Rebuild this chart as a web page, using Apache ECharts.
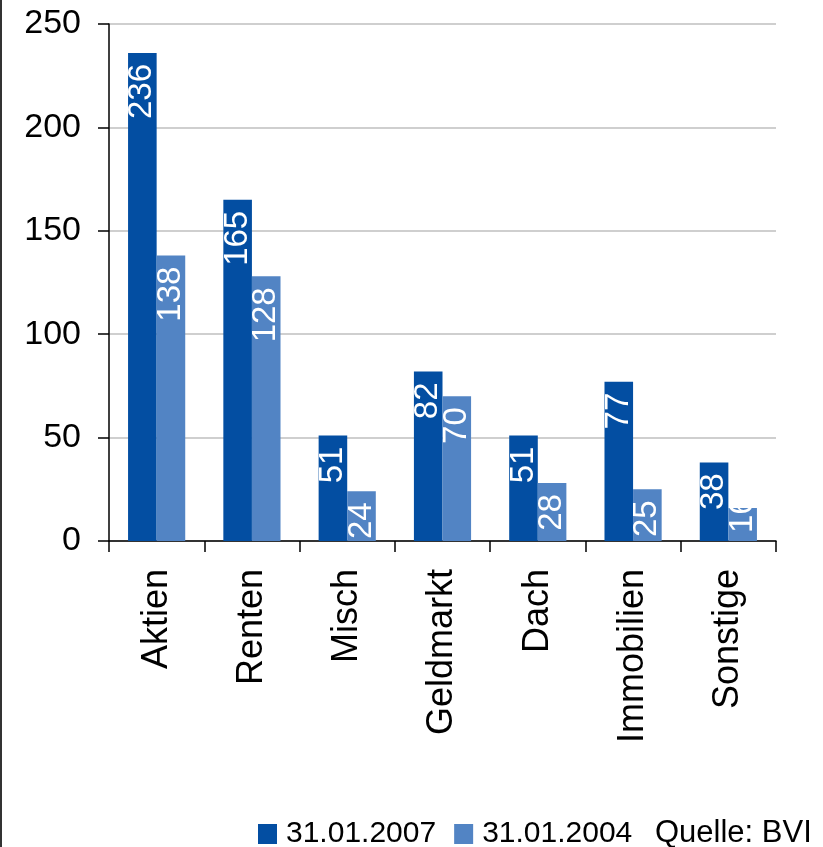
<!DOCTYPE html>
<html>
<head>
<meta charset="utf-8">
<script src="https://cdn.jsdelivr.net/npm/echarts@6/dist/echarts.min.js"></script>
<style>
html,body{margin:0;padding:0;background:#fff;}
#chart{width:823px;height:847px;}
</style>
</head>
<body>
<div id="chart"></div>
<script>
const categories = ['Aktien','Renten','Misch','Geldmarkt','Dach','Immobilien','Sonstige'];
const series2007 = [236,165,51,82,51,77,38];
const series2004 = [138,128,24,70,28,25,16];
const seriesNames = ['31.01.2007','31.01.2004'];
const sourceText = 'Quelle: BVI';

const FONT = '"Liberation Sans", Arial, sans-serif';
const chart = echarts.init(document.getElementById('chart'), null, {renderer:'canvas'});

const labelCfg = {
  show: true,
  position: 'insideTop',
  rotate: 90,
  align: 'right',
  verticalAlign: 'middle',
  distance: 11,
  color: '#fff',
  fontSize: 33,
  fontFamily: FONT
};

// labels that do not fit in a short bar are anchored at the bar base instead
const withFit = arr => arr.map(v => v < 20
  ? {value: v, label: {position: 'insideBottom', align: 'left', distance: 8}}
  : v);

chart.setOption({
  animation: false,
  backgroundColor: '#fff',
  grid: {left: 109, right: 47, top: 24, bottom: 306, containLabel: false},
  legend: {
    left: 258, top: 819, padding: 0,
    itemWidth: 19, itemHeight: 20, itemGap: 18,
    icon: 'rect',
    textStyle: {fontSize: 30, fontFamily: FONT, color: '#000', padding: [0,0,0,4]},
    data: seriesNames
  },
  xAxis: {
    type: 'category',
    data: categories,
    axisLine: {lineStyle: {color: '#000', width: 1.5}},
    axisTick: {show: true, length: 11, lineStyle: {color: '#000', width: 1.5}},
    axisLabel: {rotate: 90, margin: 28, fontSize: 36, fontFamily: FONT, color: '#000'}
  },
  yAxis: {
    type: 'value',
    min: 0, max: 250, interval: 50,
    axisLine: {show: true, lineStyle: {color: '#000', width: 1.5}},
    axisTick: {show: true, length: 11, lineStyle: {color: '#000', width: 1.5}},
    axisLabel: {margin: 28, fontSize: 34, fontFamily: FONT, color: '#000'},
    splitLine: {lineStyle: {color: '#BFBFBF', width: 1.5}}
  },
  series: [
    {
      name: seriesNames[0], type: 'bar', data: withFit(series2007),
      barGap: '0%', barCategoryGap: '40%',
      itemStyle: {color: '#034EA2'},
      label: labelCfg
    },
    {
      name: seriesNames[1], type: 'bar', data: withFit(series2004),
      itemStyle: {color: '#5284C4'},
      label: labelCfg
    }
  ],
  graphic: [
    {type: 'line', shape: {x1: 1, y1: 0, x2: 1, y2: 847}, style: {stroke: '#333', lineWidth: 2}},
    {type: 'text', left: 655, top: 818, style: {text: sourceText, fontSize: 31, fontFamily: FONT, fill: '#000'}}
  ]
});
</script>
</body>
</html>
